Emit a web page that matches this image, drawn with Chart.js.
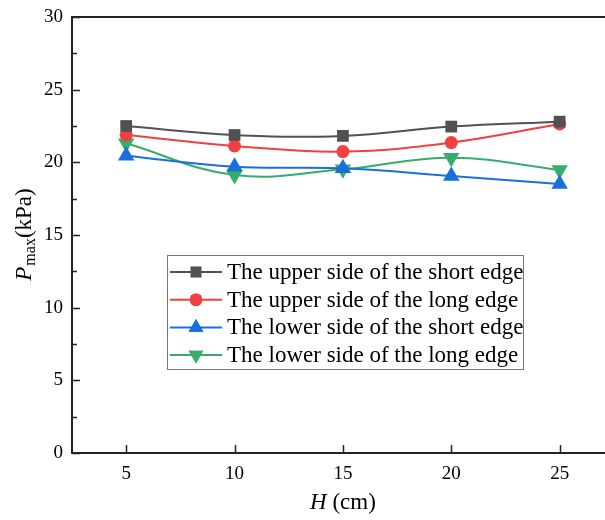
<!DOCTYPE html>
<html>
<head>
<meta charset="utf-8">
<script src="https://cdn.jsdelivr.net/npm/chart.js@4/dist/chart.umd.min.js"></script>
<style>
html,body{margin:0;padding:0;background:#fff;overflow:hidden;}
#wrap{width:680px;height:520px;}
</style>
</head>
<body>
<div id="wrap"><canvas id="c" width="680" height="520"></canvas></div>
<script>
const heights = [5, 10, 15, 20, 25];
const upperShort = [22.50, 21.88, 21.82, 22.46, 22.80];
const upperLong  = [21.88, 21.13, 20.74, 21.36, 22.64];
const lowerShort = [20.46, 19.70, 19.59, 19.06, 18.51];
const lowerLong  = [21.31, 19.13, 19.52, 20.32, 19.48];
const seriesLabels = [
  'The upper side of the short edge',
  'The upper side of the long edge',
  'The lower side of the short edge',
  'The lower side of the long edge'
];
const yTicks = [0, 5, 10, 15, 20, 25, 30];

const SERIF = '"Liberation Serif", "Times New Roman", serif';
const colors = ['#515151', '#F14040', '#1A6FDF', '#37AD6B'];
const styles = [
  {pointStyle:'rect', r:8.3, rot:0},
  {pointStyle:'circle', r:6.5, rot:0},
  {pointStyle:'triangle', r:9.5, rot:0},
  {pointStyle:'triangle', r:9.5, rot:180}
];
const allData = [upperShort, upperLong, lowerShort, lowerLong];

const datasets = allData.map((vals, i) => ({
  label: seriesLabels[i],
  data: heights.map((h, j) => ({x: h, y: vals[j]})),
  borderColor: colors[i],
  backgroundColor: colors[i],
  borderWidth: 2,
  tension: 0.4,
  pointStyle: styles[i].pointStyle,
  pointRadius: styles[i].r,
  pointRotation: styles[i].rot,
  pointBorderWidth: 0,
  pointBackgroundColor: colors[i]
}));

const decor = {
  id: 'decor',
  afterDraw(chart) {
    const ctx = chart.ctx;
    const a = chart.chartArea;
    const xs = chart.scales.x, ys = chart.scales.y;
    ctx.save();
    ctx.strokeStyle = '#222';
    ctx.lineWidth = 2;
    // top border
    ctx.beginPath();
    ctx.moveTo(a.left - 1, a.top);
    ctx.lineTo(a.right, a.top);
    ctx.stroke();
    ctx.lineWidth = 1.5;
    // inward y ticks (major + minor)
    for (let v = 0; v <= 30; v += 2.5) {
      const y = Math.round(ys.getPixelForValue(v)) + 0.5;
      const len = (v % 5 === 0) ? 8 : 5;
      ctx.beginPath();
      ctx.moveTo(a.left, y);
      ctx.lineTo(a.left + len, y);
      ctx.stroke();
    }
    // inward x ticks
    heights.forEach(h => {
      const x = Math.round(xs.getPixelForValue(h)) + 0.5;
      ctx.beginPath();
      ctx.moveTo(x, a.bottom);
      ctx.lineTo(x, a.bottom - 8);
      ctx.stroke();
    });
    // y title: P_max(kPa)
    ctx.fillStyle = '#000';
    ctx.translate(25, (a.top + a.bottom) / 2);
    ctx.rotate(-Math.PI / 2);
    ctx.textBaseline = 'middle';
    const fMain = '23px ' + SERIF, fItal = 'italic 23px ' + SERIF, fSub = '16px ' + SERIF;
    ctx.font = fItal; const wP = ctx.measureText('P').width;
    ctx.font = fSub; const wS = ctx.measureText('max').width;
    ctx.font = fMain; const wK = ctx.measureText('(kPa)').width;
    let x0 = -(wP + wS + wK) / 2;
    ctx.textAlign = 'left';
    ctx.font = fItal; ctx.fillText('P', x0, 0); x0 += wP + 1;
    ctx.font = fSub; ctx.fillText('max', x0, 6); x0 += wS;
    ctx.font = fMain; ctx.fillText('(kPa)', x0, 0);
    ctx.restore();

    // x title: H (cm)
    ctx.save();
    ctx.fillStyle = '#000';
    ctx.textBaseline = 'middle';
    ctx.font = 'italic 23px ' + SERIF; const wH = ctx.measureText('H').width;
    ctx.font = '23px ' + SERIF; const wC = ctx.measureText(' (cm)').width;
    let xs0 = xs.getPixelForValue(15) - (wH + wC) / 2;
    ctx.textAlign = 'left';
    ctx.font = 'italic 23px ' + SERIF; ctx.fillText('H', xs0, 503);
    ctx.font = '23px ' + SERIF; ctx.fillText(' (cm)', xs0 + wH, 503);
    ctx.restore();

    // legend
    ctx.save();
    const bx = 167.5, by = 255.5, bw = 356, bh = 114;
    ctx.fillStyle = '#fff';
    ctx.fillRect(bx, by, bw, bh);
    ctx.strokeStyle = '#777';
    ctx.lineWidth = 1;
    ctx.strokeRect(bx, by, bw, bh);
    ctx.font = '23px ' + SERIF;
    ctx.textBaseline = 'middle';
    ctx.textAlign = 'left';
    chart.data.datasets.forEach((ds, i) => {
      const cy = 272 + i * 27.7;
      ctx.strokeStyle = ds.borderColor;
      ctx.lineWidth = 2;
      ctx.beginPath();
      ctx.moveTo(170, cy);
      ctx.lineTo(222, cy);
      ctx.stroke();
      ctx.fillStyle = ds.borderColor;
      const r = ds.pointStyle === 'triangle' ? 8.5 : (ds.pointStyle === 'rect' ? 7.5 : 6.3);
      Chart.helpers.drawPoint(ctx, {pointStyle: ds.pointStyle, radius: r, rotation: ds.pointRotation, borderWidth: 0}, 196, cy);
      ctx.fill();
      ctx.fillStyle = '#000';
      ctx.fillText(ds.label, 227, cy + 1);
    });
    ctx.restore();
  }
};

new Chart(document.getElementById('c'), {
  type: 'line',
  data: { datasets },
  options: {
    responsive: false,
    animation: false,
    layout: { padding: { top: 17, right: 12, bottom: 0, left: 0 } },
    plugins: { legend: { display: false }, tooltip: { enabled: false } },
    scales: {
      x: {
        type: 'linear',
        min: 2.5, max: 30,
        grid: { display: false },
        border: { display: true, color: '#222', width: 2 },
        afterBuildTicks: s => { s.ticks = heights.map(v => ({value: v})); },
        ticks: { font: { family: SERIF, size: 19 }, color: '#000', padding: 2, maxRotation: 0 },
        afterFit: s => { s.height = 67; s.paddingLeft = 0; s.paddingRight = 0; }
      },
      y: {
        min: 0, max: 30,
        grid: { display: false },
        border: { display: true, color: '#222', width: 2 },
        afterBuildTicks: s => { s.ticks = yTicks.map(v => ({value: v})); },
        ticks: { font: { family: SERIF, size: 19 }, color: '#000', padding: 1 },
        afterFit: s => { s.width = 72; s.paddingTop = 0; s.paddingBottom = 0; }
      }
    }
  },
  plugins: [decor]
});
</script>
</body>
</html>
